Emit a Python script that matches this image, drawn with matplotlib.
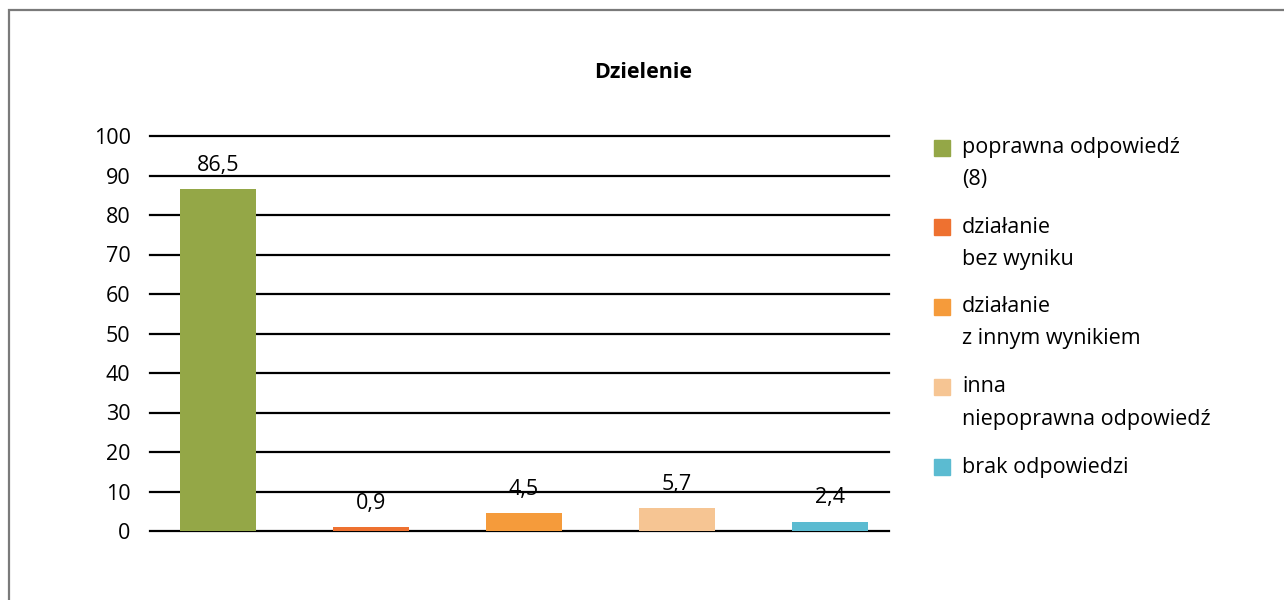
import matplotlib
matplotlib.use("Agg")
import matplotlib.pyplot as plt
from matplotlib.patches import Rectangle

plt.rcParams['font.family'] = ['Open Sans', 'DejaVu Sans']

title = "Dzielenie"
categories = [
    "poprawna odpowiedź\n(8)",
    "działanie\nbez wyniku",
    "działanie\nz innym wynikiem",
    "inna\nniepoprawna odpowiedź",
    "brak odpowiedzi",
]
values = [86.5, 0.9, 4.5, 5.7, 2.4]
colors = ["#94a747", "#ee7130", "#f59b3b", "#f6c593", "#5bbbd1"]
yticks = list(range(0, 101, 10))

FS = 15.5
W, H = 1284, 600
fig = plt.figure(figsize=(W / 100, H / 100), dpi=100)

# outer frame (open to the right and bottom)
fig.add_artist(Rectangle((9 / W, -0.1), 1.2, (H - 10) / H + 0.1,
                         transform=fig.transFigure, fill=False,
                         edgecolor="#7a7a7a", linewidth=1.6))

ax = fig.add_axes([150 / W, (H - 531) / H, (889 - 150) / W, (531 - 136) / H])
x = list(range(len(values)))
ax.bar(x, values, width=0.5, color=colors, zorder=3)

ax.set_ylim(0, 100)
ax.set_xlim(-68 / 153, (889 - 218) / 153)
ax.set_yticks(yticks)
ax.set_yticklabels([str(t) for t in yticks], fontsize=FS)
ax.tick_params(axis="y", length=0, pad=14)
ax.set_xticks([])
for s in ax.spines.values():
    s.set_visible(False)
ax.yaxis.grid(True, color="black", linewidth=1.6, zorder=1)
ax.set_axisbelow(True)
for gl in ax.get_ygridlines():
    gl.set_clip_on(False)

for xi, v in zip(x, values):
    ax.annotate(f"{v:.1f}".replace(".", ","), (xi, v), xytext=(0, 17),
                textcoords="offset points", ha="center", va="center",
                fontsize=FS, zorder=4)

fig.text(643 / W, 1 - 72 / H, title, ha="center", va="center",
         fontsize=FS, fontweight="bold")

# legend drawn as squares with two-line labels
legend_y = [148, 227, 307, 387, 467]
for cat, col, ly in zip(categories, colors, legend_y):
    fig.add_artist(Rectangle((934 / W, 1 - (ly + 8) / H), 16 / W, 16 / H,
                             transform=fig.transFigure, color=col))
    lines = cat.split("\n")
    for i, line in enumerate(lines):
        fig.text(962 / W, 1 - (ly + 32 * i) / H, line, ha="left",
                 va="center", fontsize=FS)

fig.savefig("out.png", dpi=100)
